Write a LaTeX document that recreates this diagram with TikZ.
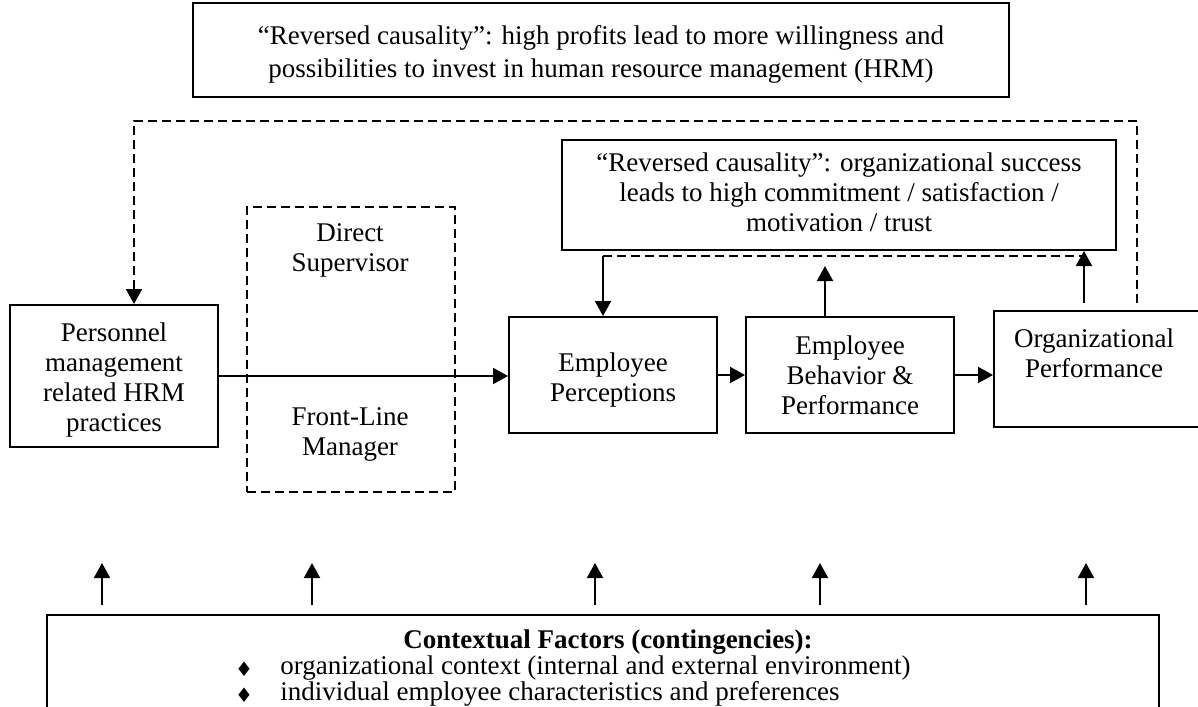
\documentclass[tikz,border=0pt]{standalone}
\usepackage{fontspec}
\setmainfont{Liberation Serif}
\newfontfamily\symfont{DejaVu Sans}
\usetikzlibrary{arrows.meta}
\begin{document}
\begin{tikzpicture}[x=0.5pt,y=-0.5pt,
  font=\fontsize{13.5}{15}\selectfont,
  box/.style={draw,line width=1pt,align=center,inner sep=0pt},
  dbox/.style={draw,line width=0.9pt,dash pattern=on 4.5pt off 2.5pt,inner sep=0pt},
  arr/.style={line width=1pt,-{Triangle[length=7.5pt,width=8pt]}},
  dline/.style={line width=0.9pt,dash pattern=on 4.5pt off 2.5pt},
  lbl/.style={align=center,inner sep=0pt}]
\useasboundingbox (0,0) rectangle (1198,706);
\clip (0,0) rectangle (1198,706);
% boxes
\node[box,minimum width=408pt,minimum height=47pt] (top) at (601,50) {};
\node[lbl,font=\fontsize{13.5}{16.5}\selectfont] (topt) at (601,54)
  {“Reversed causality”: high profits lead to more willingness and\\possibilities to invest in human resource management (HRM)};
\node[box,minimum width=277pt,minimum height=55pt] (mid) at (839,195) {};
\node[lbl] (midt) at (839,192)
  {“Reversed causality”: organizational success\\leads to high commitment / satisfaction /\\motivation / trust};
\node[box,minimum width=104pt,minimum height=71pt] (pers) at (114,376) {};
\node[lbl] (perst) at (114,380) {Personnel\\management\\related HRM\\practices};
\node[dbox,minimum width=104pt,minimum height=142.5pt] (sup) at (351,349.5) {};
\node[lbl] (dsup) at (350,250) {Direct\\Supervisor};
\node[lbl] (flm) at (350,434) {Front-Line\\Manager};
\node[box,minimum width=104pt,minimum height=58pt] (perc) at (613,375) {};
\node[lbl] (perct) at (613,380) {Employee\\Perceptions};
\node[box,minimum width=104pt,minimum height=58pt] (beh) at (850,375) {Employee\\Behavior \&\\Performance};
\node[box,minimum width=112pt,minimum height=58pt] (org) at (1106,369) {};
\node[lbl] (orgt) at (1094,353) {Organizational\\Performance};
\node[draw,line width=1pt,minimum width=556pt,minimum height=80pt,anchor=north,inner sep=0pt] (ctx) at (603,614) {};
\node[lbl,font=\fontsize{13.5}{15}\selectfont\bfseries] (ctxh) at (608,642) {Contextual Factors (contingencies):};
\node[lbl,font=\symfont\fontsize{10}{12}\selectfont] (bul1) at (244,669) {♦};
\node[lbl,font=\symfont\fontsize{10}{12}\selectfont] (bul2) at (244,695) {♦};
\node[lbl,anchor=west] (ctx1) at (280,668) {organizational context (internal and external environment)};
\node[lbl,anchor=west] (ctx2) at (280,694) {individual employee characteristics and preferences};
% main chain
\draw[arr] (pers.east) -- (pers.east -| perc.west);
\draw[arr] (perc.east) -- (beh.west);
\draw[arr] (beh.east) -- (beh.east -| org.west);
% long feedback loop
\coordinate (fr) at (1137,303);
\coordinate (fc1) at (1137,121);
\coordinate (fc2) at (134,121);
\draw[dline,arr] (fr) -- (fc1) -- (fc2) -- (fc2 |- pers.north);
% inner feedback loop
\coordinate (m1) at (603,256);
\coordinate (m2) at (1084,256);
\draw[dline] (m1) -- (m2);
\draw[arr] (m1) -- (m1 |- perc.north);
\coordinate (o1) at (1084,303);
\draw[arr] (o1) -- (o1 |- mid.south);
\coordinate (bu) at (825,266);
\draw[arr] (bu |- beh.north) -- (bu);
% contextual arrows
\foreach \i/\x in {1/102,2/312,3/595,4/820,5/1086}{
  \coordinate (cb\i) at (\x,605);
  \coordinate (ct\i) at (\x,563);
  \draw[arr] (cb\i) -- (ct\i);
}
\end{tikzpicture}
\end{document}
